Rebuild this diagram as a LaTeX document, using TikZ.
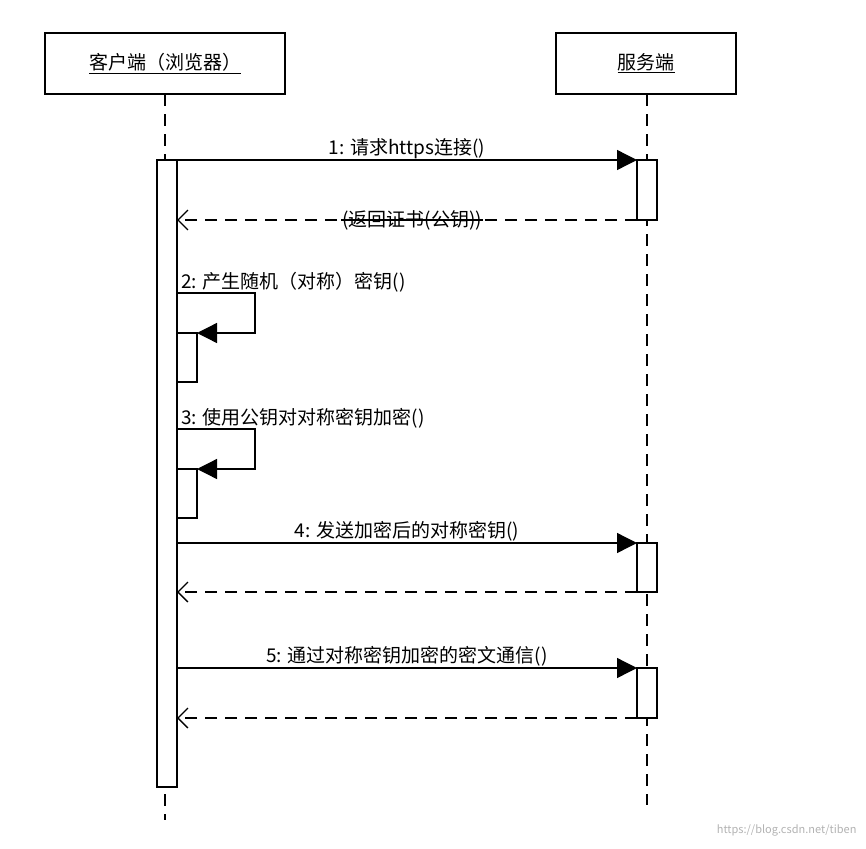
\documentclass[tikz,border=0pt]{standalone}
\usepackage{fontspec}
\setmainfont{Noto Sans CJK SC}
\usetikzlibrary{arrows.meta}
\begin{document}
\begin{tikzpicture}[x=1pt,y=-1pt,
  obj/.style={draw,line width=2.4pt,minimum width=#1,minimum height=61pt,inner sep=0pt},
  act/.style={draw,fill=white,line width=1.3pt},
  life/.style={draw,line width=1.2pt,dash pattern=on 12pt off 8pt},
  msg/.style={line width=1.3pt,-{Triangle[length=20pt,width=20pt]}},
  ret/.style={line width=1.3pt,dash pattern=on 12pt off 8pt,-{Straight Barb[length=10pt,width=20pt]}},
  lbl/.style={font=\fontsize{19}{22}\selectfont,inner sep=1pt}]
\useasboundingbox (0,0) rectangle (866,848);
\node[obj=240pt] (c) at (165,63.5) {\fontsize{19}{22}\selectfont\underline{客户端（浏览器）}};
\node[obj=180pt] (s) at (646,63.5) {\fontsize{19}{22}\selectfont\underline{服务端}};
\coordinate (ce) at (165,820); \coordinate (se) at (647,805);
\draw[life] (165,94) -- (ce);
\draw[life] (647,94) -- (se);
\draw[act] (157,160) rectangle (177,787);
\draw[act] (637,160) rectangle (657,220);
\draw[act] (637,543) rectangle (657,592);
\draw[act] (637,668) rectangle (657,718);
% msg 1
\coordinate (a1) at (177,160); \coordinate (b1) at (637,160);
\draw[msg] (a1) -- node[lbl,above=0pt]{1: 请求https连接()} (b1);
\coordinate (a1r) at (637,220); \coordinate (b1r) at (177,220);
\draw[ret] (a1r) -- (b1r);
\node[lbl] (r1) at (412,220) {(返回证书(公钥))};
\draw[line width=1.3pt] (r1.west) -- (r1.east);
% self 2
\node[lbl,anchor=south west] at (180,293) {2: 产生随机（对称）密钥()};
\draw[act] (177,333) rectangle (197,382);
\coordinate (s2a) at (177,293); \coordinate (s2b) at (197,333);
\draw[msg] (s2a) -- (255,293) -- (255,333) -- (s2b);
% self 3
\node[lbl,anchor=south west] at (180,429) {3: 使用公钥对对称密钥加密()};
\draw[act] (177,469) rectangle (197,518);
\coordinate (s3a) at (177,429); \coordinate (s3b) at (197,469);
\draw[msg] (s3a) -- (255,429) -- (255,469) -- (s3b);
% msg 4
\coordinate (a4) at (177,543); \coordinate (b4) at (637,543);
\draw[msg] (a4) -- node[lbl,above=0pt]{4: 发送加密后的对称密钥()} (b4);
\coordinate (a4r) at (637,592); \coordinate (b4r) at (177,592);
\draw[ret] (a4r) -- (b4r);
% msg 5
\coordinate (a5) at (177,668); \coordinate (b5) at (637,668);
\draw[msg] (a5) -- node[lbl,above=0pt]{5: 通过对称密钥加密的密文通信()} (b5);
\coordinate (a5r) at (637,718); \coordinate (b5r) at (177,718);
\draw[ret] (a5r) -- (b5r);
\node[text=gray!60,font=\fontsize{11}{12}\selectfont,anchor=east] (wm) at (860,830) {https://blog.csdn.net/tiben};
\end{tikzpicture}
\end{document}
